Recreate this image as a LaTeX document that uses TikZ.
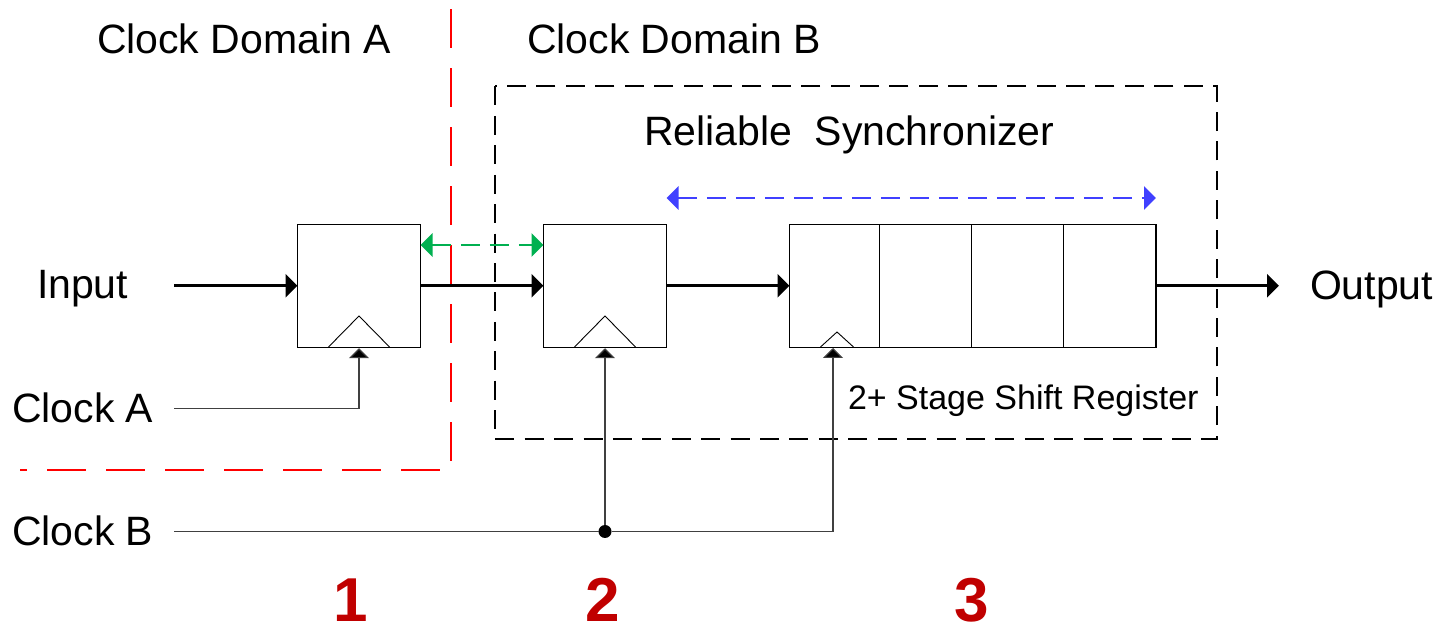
\documentclass[tikz,border=0pt]{standalone}
\usepackage{fontspec}
\setmainfont{Liberation Sans}
\usetikzlibrary{arrows.meta}

\begin{document}
\begin{tikzpicture}[
            x = 0.5pt, y = -0.5pt,
            every node/.style = {inner sep = 0pt, outer sep = 0pt},
            caption/.style = {font = \fontsize{20.5}{24}\selectfont},
            number/.style = {font = \fontsize{31}{34}\selectfont\bfseries, text = numred},
            reg/.style = {draw, line width = 0.7pt, minimum height = 61.5pt},
            tick/.style = {draw, line width = 0.45pt},
            data/.style = {line width = 1.5pt, -{Triangle[length = 6pt, width = 11.5pt]}},
            clk/.style = {line width = 0.6pt, draw = black!75, -{Triangle[length = 5pt, width = 10pt, fill = black]}},
            span/.style = {line width = 1.4pt, dash pattern = on 9.5pt off 5pt,
                {Triangle[length = 6pt, width = 11.5pt]}-{Triangle[length = 6pt, width = 11.5pt]}}]
            \definecolor{numred}{RGB}{192,0,0}
            \definecolor{spangreen}{RGB}{0,176,80}
            \definecolor{spanblue}{RGB}{64,64,255}
            \useasboundingbox (0,0) rectangle (1441,624);

            % domains
            \coordinate (redtop) at (451,9.5);
            \coordinate (redcorner) at (451,470);
            \coordinate (redend) at (20,470);
            \draw[red, line width = 1.15pt, dash pattern = on 19.5pt off 10pt] (redtop) -- (redcorner) -- (redend);
            \coordinate (syncnw) at (494.75,86.5);
            \coordinate (syncse) at (1217,439);
            \draw[line width = 1pt, dash pattern = on 9.5pt off 5.21pt] (syncnw) |- (syncse) |- (syncnw);

            % registers
            \node[reg, minimum width = 61.5pt] (ffa) at (359,285.75) {};
            \node[reg, minimum width = 61.5pt] (ffb) at (605,285.75) {};
            \node[reg, minimum width = 183.25pt] (shift) at (972.75,285.75) {};
            \draw[tick] (879,224.5) -- (879,347.25);
            \draw[tick] (971.5,224.5) -- (971.5,347.25);
            \draw[tick] (1063.5,224.5) -- (1063.5,347.25);
            \draw[tick] (328.5,347) -- (359,316) -- (389.5,347);
            \draw[tick] (574.5,347) -- (605,316) -- (635.5,347);
            \draw[tick] (820.5,347) -- (837,332) -- (853.5,347);

            % texts
            \node[caption, anchor = west] (domaina) at (97,39) {Clock Domain A};
            \node[caption, anchor = west] (domainb) at (527,39) {Clock Domain B};
            \node[caption, anchor = west] (synclabel) at (644,135) {Reliable\ \ Synchronizer};
            \node[caption, anchor = west] (input) at (37,289) {Input};
            \node[caption, anchor = west] (clocka) at (12,408) {Clock A};
            \node[caption, anchor = west] (clockb) at (12,531) {Clock B};
            \node[caption, anchor = west] (output) at (1310,289) {Output};
            \node[anchor = west, font = \fontsize{17}{20}\selectfont] (shiftlabel) at (848,401) {2+ Stage Shift Register};
            \node[number] (one) at (351,600) {1};
            \node[number] (two) at (603,600) {2};
            \node[number] (three) at (972,600) {3};

            % data path
            \coordinate (instart) at (174,285.75);
            \coordinate (outend) at (1279,285.75);
            \draw[data] (instart) -- (ffa.west);
            \draw[data] (ffa.east) -- (ffb.west);
            \draw[data] (ffb.east) -- (shift.west);
            \draw[data] (shift.east) -- (outend);

            % clocks
            \coordinate (clkastart) at (174,408.5);
            \coordinate (clkbstart) at (174,531.5);
            \coordinate (shiftclk) at (833,348);
            \node[fill, circle, minimum size = 6.5pt] (junction) at (605,531.5) {};
            \draw[clk] (clkastart) -| ([yshift = -0.5pt]ffa.south);
            \draw[clk] (junction) -- ([yshift = -0.5pt]ffb.south);
            \draw[line width = 0.6pt, draw = black!75] (clkbstart) -- (junction);
            \draw[clk] (junction) -| (shiftclk);

            % spans
            \coordinate (greenl) at (420.5,245);
            \coordinate (greenr) at (543.5,245);
            \coordinate (bluel) at (666.5,198);
            \coordinate (bluer) at (1156,198);
            \draw[span, spangreen] (greenl) -- (greenr);
            \draw[span, spanblue] (bluel) -- (bluer);
        \end{tikzpicture}
\end{document}
